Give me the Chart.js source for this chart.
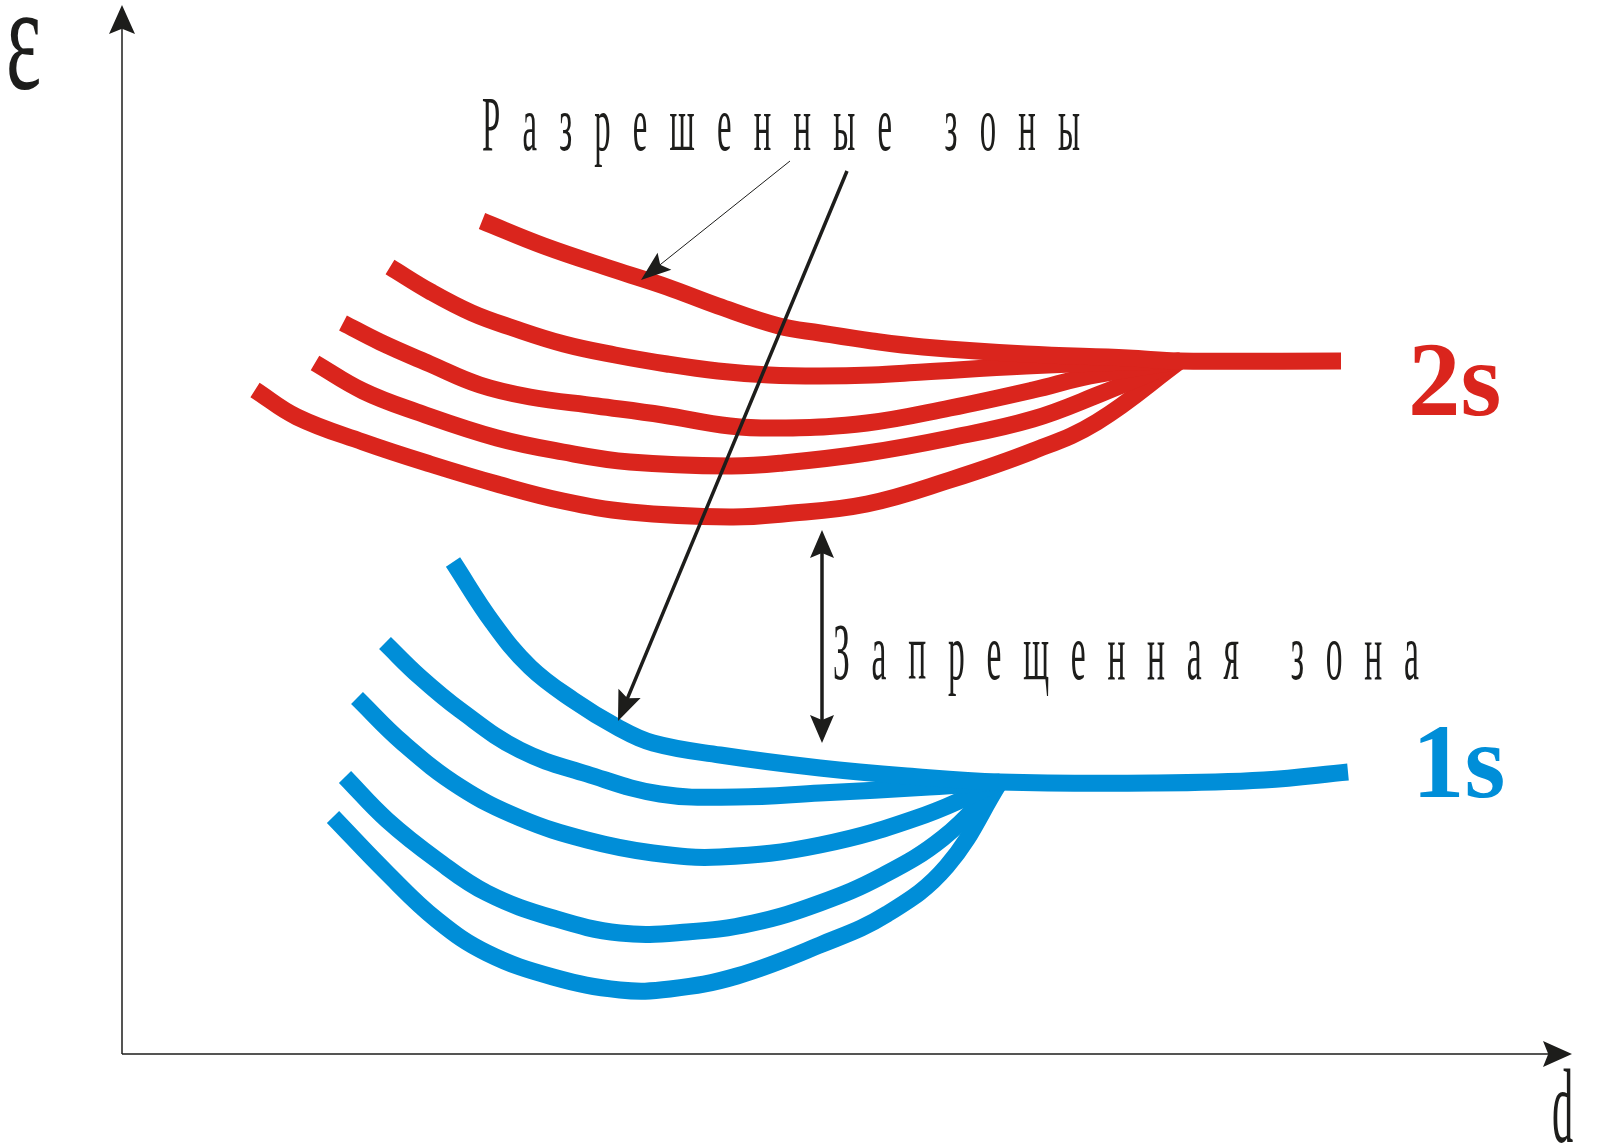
<!DOCTYPE html>
<html lang="ru">
<head>
<meta charset="utf-8">
<title>Разрешенные и запрещенная зоны</title>
<script src="https://cdn.jsdelivr.net/npm/chart.js@4.4.1/dist/chart.umd.min.js"></script>
<style>
  html, body { margin: 0; padding: 0; background: #fff; }
  #wrap { width: 1608px; height: 1147px; position: relative; }
</style>
</head>
<body>
<div id="wrap"><canvas id="grafico"></canvas></div>
<script>
// Datos: [d, ε] en unidades del gráfico
const nivel2s_1 = [[36.0,83.3],[42.2,80.8],[49.3,78.4],[54.5,76.7],[59.6,74.8],[65.7,72.8],[69.8,72.1],[75.0,71.3],[80.1,70.7],[90.4,70.0],[100.6,69.6],[105.8,69.3],[121.9,69.3]];
const nivel2s_2 = [[26.8,78.7],[30.9,76.2],[35.0,74.1],[39.1,72.6],[44.2,71.0],[49.3,69.9],[54.5,69.0],[59.6,68.3],[64.7,67.9],[69.8,67.8],[75.0,67.9],[80.1,68.2],[90.4,68.8],[100.6,69.2],[105.8,69.3]];
const nivel2s_3 = [[22.1,73.1],[25.8,71.2],[30.8,69.0],[35.8,66.9],[40.8,65.7],[47.5,64.8],[54.1,63.9],[60.8,62.8],[66.1,62.6],[74.5,63.1],[82.8,64.6],[91.1,66.4],[96.8,67.8],[105.8,69.3]];
const nivel2s_4 = [[19.3,69.1],[24.1,66.3],[29.5,64.2],[37.5,61.6],[44.1,60.2],[50.8,59.2],[60.8,58.8],[66.1,59.1],[74.5,60.1],[82.8,61.6],[91.1,63.5],[97.8,66.0],[105.8,69.3]];
const nivel2s_5 = [[13.3,66.4],[17.5,63.7],[24.1,61.2],[30.8,59.0],[37.5,57.0],[44.1,55.3],[50.8,54.2],[60.8,53.7],[66.1,54.0],[74.5,55.0],[82.8,57.4],[91.1,60.3],[97.5,63.2],[105.8,69.3]];

const nivel1s_1 = [[33.1,49.2],[37.1,43.1],[40.8,38.7],[45.1,35.4],[49.5,32.7],[53.1,31.1],[59.8,29.9],[69.8,28.6],[78.5,27.8],[87.8,27.2],[103.5,27.1],[114.2,27.4],[122.6,28.2]];
const nivel1s_2 = [[26.3,41.1],[29.8,37.7],[33.8,34.4],[39.8,30.4],[46.5,28.0],[53.8,26.0],[61.5,25.7],[69.8,26.1],[80.7,26.7],[87.8,27.2]];
const nivel1s_3 = [[23.5,35.6],[28.1,31.1],[33.8,26.7],[39.8,23.6],[46.5,21.4],[53.1,20.1],[59.8,19.7],[69.8,20.9],[80.3,23.9],[87.8,27.2]];
const nivel1s_4 = [[22.3,27.7],[26.5,23.4],[31.5,19.4],[36.5,16.1],[43.1,13.6],[49.8,12.1],[56.5,12.2],[63.1,13.1],[69.8,15.1],[76.0,17.8],[82.1,21.6],[87.8,27.2]];
const nivel1s_5 = [[21.1,23.7],[26.5,18.1],[31.5,13.4],[36.5,10.1],[43.1,7.7],[49.8,6.4],[54.8,6.5],[61.5,7.8],[69.8,10.9],[76.5,14.0],[82.5,18.8],[87.8,27.2]];

// Textos y anotaciones
const etiquetasNivel = ['2s', '1s'];
const textoPermitidas = 'Разрешенные зоны';
const textoProhibida = 'Запрещенная зона';
const ejeY = 'ε', ejeX = 'd';
const flechaFina = [[66.8,89.3],[51.9,77.4]];
const flechaGruesa = [[72.5,88.3],[49.6,33.3]];
const flechaDoble = [[70.0,52.4],[70.0,31.1]];
const limiteX = 145, limiteY = 104.9;

const ROJO = '#da251d';
const AZUL = '#008ed8';
const NEGRO = '#1d1d1b';

function punta(ctx, x, y, ang, largo, ancho) {
  const c = Math.cos(ang), s = Math.sin(ang);
  const bx = x - c * largo, by = y - s * largo;
  const nx = x - c * largo * 0.82, ny = y - s * largo * 0.82;
  ctx.beginPath();
  ctx.moveTo(x, y);
  ctx.lineTo(bx - s * ancho, by + c * ancho);
  ctx.lineTo(nx, ny);
  ctx.lineTo(bx + s * ancho, by - c * ancho);
  ctx.closePath();
  ctx.fill();
}

function flecha(ctx, x1, y1, x2, y2, grosor, largo, ancho, doble) {
  const ang = Math.atan2(y2 - y1, x2 - x1);
  const c = Math.cos(ang), s = Math.sin(ang);
  const ini = doble ? [x1 + c * largo * 0.8, y1 + s * largo * 0.8] : [x1, y1];
  ctx.lineWidth = grosor;
  ctx.beginPath();
  ctx.moveTo(ini[0], ini[1]);
  ctx.lineTo(x2 - c * largo * 0.8, y2 - s * largo * 0.8);
  ctx.stroke();
  punta(ctx, x2, y2, ang, largo, ancho);
  if (doble) punta(ctx, x1, y1, ang + Math.PI, largo, ancho);
}

// texto estrecho con letras separadas entre izq y der
function textoEspaciado(ctx, texto, izq, der, base, size, sx) {
  ctx.font = size + 'px "Liberation Serif", serif';
  const letras = [...texto];
  const anchos = letras.map(l => ctx.measureText(l).width * sx);
  const total = anchos.reduce((a, b) => a + b, 0);
  const hueco = (der - izq - total) / (letras.length - 1);
  let cx = izq;
  letras.forEach((l, i) => {
    ctx.save();
    ctx.translate(cx, base);
    ctx.scale(sx, 1);
    ctx.fillText(l, 0, 0);
    ctx.restore();
    cx += anchos[i] + hueco;
  });
}

function textoEstrecho(ctx, texto, x, base, fuente, sx) {
  ctx.save();
  ctx.font = fuente;
  ctx.translate(x, base);
  ctx.scale(sx, 1);
  ctx.fillText(texto, 0, 0);
  ctx.restore();
}

const anotaciones = {
  id: 'anotaciones',
  afterDatasetsDraw(chart) {
    const { ctx, scales: { x, y } } = chart;
    const X = v => x.getPixelForValue(v);
    const Y = v => y.getPixelForValue(v);
    ctx.save();
    ctx.strokeStyle = NEGRO;
    ctx.fillStyle = NEGRO;
    ctx.textBaseline = 'alphabetic';
    ctx.textAlign = 'left';

    // ejes
    flecha(ctx, X(0), Y(0), X(0), Y(limiteY), 1.5, 29, 13, false);
    flecha(ctx, X(0), Y(0), X(limiteX), Y(0), 1.5, 29, 13, false);

    // flechas de las zonas
    flecha(ctx, X(flechaFina[0][0]), Y(flechaFina[0][1]), X(flechaFina[1][0]), Y(flechaFina[1][1]), 1, 30, 11, false);
    flecha(ctx, X(flechaGruesa[0][0]), Y(flechaGruesa[0][1]), X(flechaGruesa[1][0]), Y(flechaGruesa[1][1]), 3.5, 30, 12, false);
    flecha(ctx, X(flechaDoble[0][0]), Y(flechaDoble[0][1]), X(flechaDoble[1][0]), Y(flechaDoble[1][1]), 3.5, 28, 12, true);

    // textos
    textoEspaciado(ctx, textoPermitidas, X(36.0), X(95.8), Y(90.4), 78, 0.42);
    textoEspaciado(ctx, textoProhibida, X(71.1), X(129.7), Y(37.5), 80, 0.42);
    textoEstrecho(ctx, ejeY, X(-11.6), Y(96.5), '150px "Liberation Serif", serif', 0.56);
    textoEstrecho(ctx, ejeX, X(143.0), Y(-8.75), '106px "Liberation Serif", serif', 0.4);

    ctx.font = 'bold 105px "Liberation Serif", serif';
    ctx.fillStyle = ROJO;
    ctx.fillText(etiquetasNivel[0], X(128.6), Y(63.9));
    ctx.fillStyle = AZUL;
    ctx.fillText(etiquetasNivel[1], X(129.0), Y(25.7));
    ctx.restore();
  }
};

const serie = (datos, color) => ({
  data: datos.map(([d, e]) => ({ x: d, y: e })),
  showLine: true,
  borderColor: color,
  backgroundColor: color,
  borderWidth: 17,
  pointRadius: 0,
  pointHoverRadius: 0,
  tension: 0.4,
  borderCapStyle: 'butt',
  borderJoinStyle: 'round',
  fill: false
});

const ctx = document.getElementById('grafico').getContext('2d');
new Chart(ctx, {
  type: 'scatter',
  data: {
    datasets: [
      serie(nivel2s_1, ROJO), serie(nivel2s_2, ROJO), serie(nivel2s_3, ROJO),
      serie(nivel2s_4, ROJO), serie(nivel2s_5, ROJO),
      serie(nivel1s_1, AZUL), serie(nivel1s_2, AZUL), serie(nivel1s_3, AZUL),
      serie(nivel1s_4, AZUL), serie(nivel1s_5, AZUL)
    ]
  },
  options: {
    responsive: true,
    maintainAspectRatio: false,
    animation: false,
    layout: { padding: { left: 122, right: 36, top: 5, bottom: 93 } },
    elements: { line: { borderWidth: 17 } },
    scales: {
      x: { type: 'linear', min: 0, max: limiteX, display: false },
      y: { type: 'linear', min: 0, max: limiteY, display: false }
    },
    plugins: {
      legend: { display: false },
      tooltip: { enabled: false }
    }
  },
  plugins: [anotaciones]
});
</script>
</body>
</html>
